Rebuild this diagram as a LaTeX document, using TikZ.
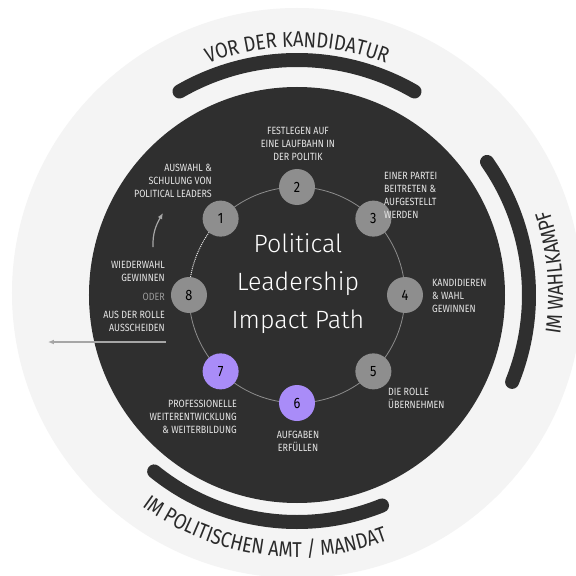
\documentclass[tikz,border=0pt]{standalone}
\usepackage{fontspec}
\setmainfont{Fira Sans}[FakeStretch=0.85]
\newfontfamily\centerfont{Fira Sans Light}
\usetikzlibrary{positioning}
\usetikzlibrary{arrows.meta}
\usetikzlibrary{decorations.text}
\definecolor{bgcircle}{HTML}{F4F4F4}
\definecolor{darkcircle}{HTML}{2F2F2F}
\definecolor{stepgrey}{HTML}{8E8E8E}
\definecolor{steppurple}{HTML}{A98CF8}
\definecolor{labeltext}{HTML}{E6E6E6}
\definecolor{arctext}{HTML}{2A2A2A}
\newcommand{\arcfont}{\fontsize{21.5}{21.5}\selectfont}

\begin{document}
\begin{tikzpicture}[x=1pt,y=1pt]
		\tikzset{
			stepnode/.style={circle,fill=stepgrey,minimum size=36pt,inner sep=0pt,text=black,font=\fontsize{15}{15}\selectfont},
			purplenode/.style={stepnode,fill=steppurple},
		}
		\tikzset{
			textnode/.style={text=labeltext,inner sep=0pt,font=\fontsize{10.5}{13}\selectfont},
			ringline/.style={color=stepgrey,line width=0.8pt},
			band/.style={color=darkcircle,line width=14pt,line cap=round},
			greyarrow/.style={color=black!35,line width=1.2pt,-{Latex[length=6pt,width=5pt]}},
			arclabel/.style={decorate,decoration={text along path,text align=center,text color=arctext}},
		}
		\newcommand{\ringr}{108pt}
		
		\useasboundingbox (-297,-281) rectangle (279,295);
		\fill[white] (-297,-281) rectangle (279,295);
		\clip (-297,-281) rectangle (279,295);
		\fill[bgcircle] (0,2) circle (285pt);
		\fill[darkcircle] (0,0) circle (208pt);
		
		% phases round the circle
		\draw[band] (60:235pt) arc[start angle=60,end angle=120,radius=235pt];
		\draw[band] (-22:232pt) arc[start angle=-22,end angle=35,radius=232pt];
		\draw[band] (231:227pt) arc[start angle=231,end angle=292,radius=227pt];
		
		\path[arclabel,decoration={text={|\arcfont|VOR DER KANDIDATUR}}] (120:248pt) arc[start angle=120,end angle=60,radius=248pt];
		\path[arclabel,decoration={text={|\arcfont|IM WAHLKAMPF}}] (-25:266pt) arc[start angle=-25,end angle=35,radius=266pt];
		\path[arclabel,decoration={text={|\arcfont|IM POLITISCHEN AMT / MANDAT}}] (226:262pt) arc[start angle=226,end angle=298,radius=262pt];
		
		% ring of steps
		\coordinate (p1) at (135:\ringr);
		\coordinate (p2) at (90:\ringr);
		\coordinate (p3) at (45:\ringr);
		\coordinate (p4) at (0:\ringr);
		\coordinate (p5) at (-45:\ringr);
		\coordinate (p6) at (-90:\ringr);
		\coordinate (p7) at (-135:\ringr);
		\coordinate (p8) at (180:\ringr);
		
		\draw[ringline] (p1) to[bend left=22.5,looseness=0.88] (p2);
		\draw[ringline] (p2) to[bend left=22.5,looseness=0.88] (p3);
		\draw[ringline] (p3) to[bend left=22.5,looseness=0.88] (p4);
		\draw[ringline] (p4) to[bend left=22.5,looseness=0.88] (p5);
		\draw[ringline] (p5) to[bend left=22.5,looseness=0.88] (p6);
		\draw[ringline] (p6) to[bend left=22.5,looseness=0.88] (p7);
		\draw[ringline] (p7) to[bend left=22.5,looseness=0.88] (p8);
		\draw[ringline,color=labeltext,line width=1pt,densely dotted] (p8) to[bend left=22.5,looseness=0.88] (p1);
		
		\node[stepnode] (s1) at (p1) {1};
		\node[stepnode] (s2) at (p2) {2};
		\node[stepnode] (s3) at (p3) {3};
		\node[stepnode] (s4) at (p4) {4};
		\node[stepnode] (s5) at (p5) {5};
		\node[purplenode] (s6) at (p6) {6};
		\node[purplenode] (s7) at (p7) {7};
		\node[stepnode] (s8) at (p8) {8};
		
		\node[text=white,inner sep=0pt,align=center,font=\centerfont\fontsize{25}{38}\selectfont] (title) at (1,11) {Political\\Leadership\\Impact Path};
		
		\node[textnode,anchor=east,align=right] (auswahl) at (-85,114) {AUSWAHL \&\\SCHULUNG VON\\POLITICAL LEADERS};
		\node[textnode,align=center] (laufbahn) at (1,151) {FESTLEGEN AUF\\EINE LAUFBAHN IN\\DER POLITIK};
		\node[textnode,anchor=west,align=left] (partei) at (87,100) {EINER PARTEI\\BEITRETEN \&\\AUFGESTELLT\\WERDEN};
		\node[textnode,anchor=west,align=left] (wahl) at (135,-1) {KANDIDIEREN\\\& WAHL\\GEWINNEN};
		\node[textnode,anchor=west,align=left] (rolle) at (91,-103) {DIE ROLLE\\ÜBERNEHMEN};
		\node[textnode,align=center] (aufgaben) at (1,-146.5) {AUFGABEN\\ERFÜLLEN};
		\node[textnode,anchor=east,align=right] (weiterbildung) at (-60,-122) {PROFESSIONELLE\\WEITERENTWICKLUNG\\\& WEITERBILDUNG};
		\node[textnode,anchor=east,align=right] (wiederwahl) at (-132,23.5) {WIEDERWAHL\\GEWINNEN};
		\node[textnode,anchor=east,text=black!40] (oder) at (-132,-2) {ODER};
		\node[textnode,anchor=east,align=right] (ausscheiden) at (-132,-26.5) {AUS DER ROLLE\\AUSSCHEIDEN};
		
		\coordinate (againstart) at (-144,48);
		\coordinate (againend) at (-134,82);
		\coordinate (exitstart) at (-131,-47);
		\coordinate (exitend) at (-249,-47);
		
		\draw[greyarrow] (againstart) to[out=92,in=240] (againend);
		\draw[greyarrow] (exitstart) -- (exitend);
	\end{tikzpicture}
\end{document}
